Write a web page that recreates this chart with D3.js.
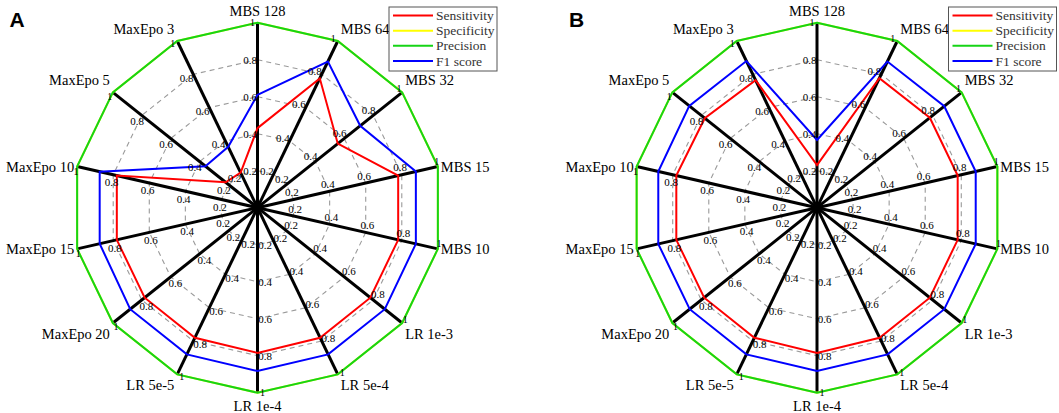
<!DOCTYPE html>
<html>
<head>
<meta charset="utf-8">
<script src="https://cdn.jsdelivr.net/npm/d3@7"></script>
<style>
  html, body { margin: 0; padding: 0; background: #fff; }
  svg { display: block; }
  .serif { font-family: "Liberation Serif", "DejaVu Serif", "Times New Roman", serif; }
  .sans { font-family: "Liberation Sans", Arial, sans-serif; }
</style>
</head>
<body>
<svg id="chart" width="1059" height="413"></svg>
<script>
// ---- data ----
const axisLabels = ["MBS 128", "MBS 64", "MBS 32", "MBS 15", "MBS 10", "LR 1e-3", "LR 5e-4",
                    "LR 1e-4", "LR 5e-5", "MaxEpo 20", "MaxEpo 15", "MaxEpo 10", "MaxEpo 5", "MaxEpo 3"];
const tickValues = [0.2, 0.4, 0.6, 0.8, 1];
const tickLabels = ["0.2", "0.4", "0.6", "0.8", "1"];
const gridLevels = [0.2, 0.4, 0.6, 0.8];
const seriesNames = ["Sensitivity", "Specificity", "Precision", "F1 score"];
const seriesColors = ["#ff0000", "#ffff00", "#16d416", "#0000ff"];
const panelNames = ["A", "B"];

const sensitivityA = [0.43, 0.776, 0.555, 0.78, 0.78, 0.78, 0.78, 0.785, 0.78, 0.78, 0.78, 0.78, 0.22, 0.21];
const specificityA = [1, 1, 1, 1, 1, 1, 1, 1, 1, 1, 1, 1, 1, 1];
const precisionA   = [1, 1, 1, 1, 1, 1, 1, 1, 1, 1, 1, 1, 1, 1];
const f1A          = [0.61, 0.877, 0.71, 0.878, 0.878, 0.88, 0.88, 0.883, 0.88, 0.88, 0.875, 0.875, 0.36, 0.365];

const sensitivityB = [0.23, 0.777, 0.78, 0.78, 0.78, 0.78, 0.78, 0.785, 0.78, 0.78, 0.78, 0.78, 0.776, 0.765];
const specificityB = [1, 1, 1, 1, 1, 1, 1, 1, 1, 1, 1, 1, 1, 1];
const precisionB   = [1, 1, 1, 1, 1, 1, 1, 1, 1, 1, 1, 1, 1, 1];
const f1B          = [0.366, 0.877, 0.88, 0.88, 0.88, 0.88, 0.88, 0.883, 0.88, 0.88, 0.88, 0.88, 0.883, 0.88];

const panels = [
  { name: panelNames[0], cx: 257.5, series: [sensitivityA, specificityA, precisionA, f1A] },
  { name: panelNames[1], cx: 817,   series: [sensitivityB, specificityB, precisionB, f1B] }
];

// ---- layout ----
const cy = 207.7;
const R = 185;
const n = axisLabels.length;
const rScale = d3.scaleLinear().domain([0, 1]).range([0, R]);
const aScale = d3.scaleLinear().domain([0, n]).range([0, 2 * Math.PI]);

const svg = d3.select("#chart");

function pt(i, v) {
  const a = aScale(i);
  return [rScale(v) * Math.sin(a), -rScale(v) * Math.cos(a)];
}

panels.forEach(p => {
  const g = svg.append("g").attr("transform", `translate(${p.cx},${cy})`);

  // dashed grid webs
  const web = d3.lineRadial()
    .angle((d, i) => aScale(i))
    .radius(d => rScale(d))
    .curve(d3.curveLinearClosed);
  gridLevels.forEach(lv => {
    g.append("path")
      .attr("d", web(axisLabels.map(() => lv)))
      .attr("fill", "none")
      .attr("stroke", "#9a9a9a")
      .attr("stroke-width", 1.1)
      .attr("stroke-dasharray", "5,4");
  });

  // spokes
  g.selectAll("line.spoke").data(axisLabels).enter().append("line")
    .attr("class", "spoke")
    .attr("x1", 0).attr("y1", 0)
    .attr("x2", (d, i) => pt(i, 1)[0])
    .attr("y2", (d, i) => pt(i, 1)[1])
    .attr("stroke", "#000")
    .attr("stroke-width", 3);

  // series
  const line = d3.lineRadial()
    .angle((d, i) => aScale(i))
    .radius(d => rScale(d))
    .curve(d3.curveLinearClosed);
  p.series.forEach((s, k) => {
    g.append("path")
      .attr("d", line(s))
      .attr("fill", "none")
      .attr("stroke", seriesColors[k])
      .attr("stroke-width", 2)
      .attr("stroke-linejoin", "miter");
  });

  // tick labels along each spoke
  axisLabels.forEach((lab, i) => {
    const a = aScale(i);
    const px = -Math.cos(a), py = -Math.sin(a);
    tickValues.forEach((tv, j) => {
      const [x, y] = pt(i, tv);
      const off = tv === 1 ? 5 : 7.5;
      g.append("text")
        .attr("class", "serif")
        .attr("x", x + px * off)
        .attr("y", y + py * off)
        .attr("text-anchor", "middle")
        .attr("dominant-baseline", "central")
        .attr("font-size", tv === 1 ? 10 : 11)
        .attr("fill", "#000")
        .text(tickLabels[j]);
    });
  });

  // axis labels
  axisLabels.forEach((lab, i) => {
    const a = aScale(i);
    const s = Math.sin(a), c = Math.cos(a);
    const [x, y] = pt(i, 1);
    let anchor = "middle", dx = 0;
    if (s > 0.1) { anchor = "start"; dx = 3; }
    else if (s < -0.1) { anchor = "end"; dx = -3; }
    let yy, base;
    if (Math.abs(c) < 0.3) { yy = y; base = "central"; }
    else if (c > 0) { yy = y - 7; base = "auto"; }
    else { yy = y + (Math.abs(s) < 0.1 ? 18 : 16); base = "auto"; }
    g.append("text")
      .attr("class", "serif")
      .attr("x", x + dx)
      .attr("y", yy)
      .attr("text-anchor", anchor)
      .attr("dominant-baseline", base)
      .attr("font-size", 14.5)
      .attr("fill", "#000")
      .text(lab);
  });

  // legend
  const lg = svg.append("g").attr("transform", `translate(${p.cx + 131.5},7)`);
  lg.append("rect")
    .attr("x", 0).attr("y", 0).attr("width", 108).attr("height", 64)
    .attr("fill", "#fff").attr("stroke", "#555").attr("stroke-width", 1);
  const ly = d3.scalePoint().domain(seriesNames).range([8.5, 54]);
  seriesNames.forEach((nm, k) => {
    lg.append("line")
      .attr("x1", 4).attr("x2", 44)
      .attr("y1", ly(nm)).attr("y2", ly(nm))
      .attr("stroke", seriesColors[k]).attr("stroke-width", 2);
    lg.append("text")
      .attr("class", "serif")
      .attr("x", 47).attr("y", ly(nm))
      .attr("dominant-baseline", "central")
      .attr("font-size", 13.5)
      .attr("fill", "#333")
      .text(nm);
  });

  // panel letter
  svg.append("text")
    .attr("class", "sans")
    .attr("x", p.cx - 248)
    .attr("y", 27)
    .attr("font-weight", "bold")
    .attr("font-size", 21)
    .attr("fill", "#000")
    .text(p.name);
});
</script>
</body>
</html>
